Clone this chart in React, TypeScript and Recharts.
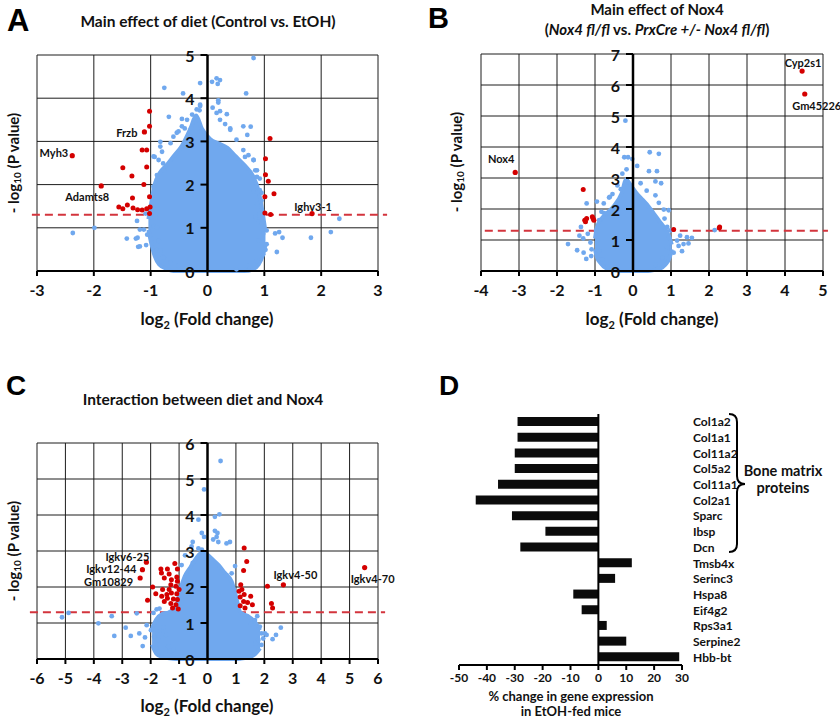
import React from "react";
import {
  Area,
  Bar,
  BarChart,
  CartesianGrid,
  ComposedChart,
  ReferenceLine,
  Scatter,
  XAxis,
  YAxis,
} from "recharts";

const FONT = "Lato, 'Open Sans', sans-serif";
const BLUE = "#70a8ee";
const RED = "#d40000";
const DASH_RED = "#d3343d";
const DOT_R = 2.4;

// ---------- Panel A: main effect of diet ----------
// dense core of the cloud: [log2FC, low, high]
const dietCore = [
  [-1.04, 0.95, 1.2], [-1.0, 0.7, 1.5], [-0.93, 0.35, 2.0], [-0.85, 0.15, 2.25],
  [-0.72, 0.05, 2.45], [-0.6, 0, 2.65], [-0.45, 0, 2.9], [-0.3, 0, 3.3],
  [-0.2, 0, 3.6], [-0.1, 0, 3.3], [0.05, 0, 3.05], [0.2, 0, 2.95],
  [0.35, 0, 2.85], [0.5, 0, 2.65], [0.65, 0, 2.45], [0.8, 0.04, 2.2],
  [0.9, 0.15, 1.85], [0.97, 0.35, 1.35], [1.02, 0.6, 0.9],
];
const dietBlue = [
  [0.81, 4.93], [-0.13, 4.35], [0.08, 4.38], [0.16, 4.46], [0.22, 4.42], [0.18, 4.33],
  [-0.76, 4.24], [-0.43, 4.11], [0.68, 4.11], [0.19, 3.95], [0.19, 3.9], [-0.13, 3.82],
  [-0.14, 3.72], [0.09, 3.78], [0.22, 3.7], [0.34, 3.63], [-0.68, 3.57], [-0.45, 3.52],
  [0.63, 3.35], [0.76, 3.34], [0.7, 3.15], [0.31, 3.4], [0.4, 3.3], [-0.4, 3.3],
  [-0.54, 3.2], [-0.83, 2.99], [-0.93, 2.64], [0.66, 2.64], [0.81, 2.57], [0.87, 2.33],
  [0.92, 2.14], [0.81, 1.83], [0.95, 1.81], [0.87, 1.56], [0.85, 1.25], [0.9, 1.14],
  [1.04, 0.94], [1.19, 0.87], [1.26, 0.9], [1.32, 0.77], [1.22, 0.44], [1.02, 0.49],
  [0.9, 0.71], [1.82, 0.77], [2.17, 0.9], [2.32, 1.21], [-2.37, 0.88], [-1.99, 1.0],
  [-1.42, 0.75], [-1.24, 1.16], [-1.26, 0.75], [-1.22, 0.56], [-1.08, 0.6], [-1.12, 0.96],
  [-0.95, 1.02], [-0.95, 0.75], [-0.78, 0.32], [-0.89, 0.48], [-1.09, 1.33], [-0.98, 1.25],
  [-0.89, 2.22], [-0.78, 2.49], [-0.8, 2.76], [-1.19, 0.96], [-1.23, 0.77], [-1.19, 0.57],
  [-1.06, 0.84], [-0.94, 1.04], [-0.95, 2.65], [-0.86, 2.57], [-0.77, 2.33], [-0.83, 2.88],
  [-0.65, 2.96], [-0.6, 3.11], [-0.51, 3.23], [-0.45, 3.35], [-0.36, 3.5], [-0.27, 3.62],
  [-0.19, 3.74], [-0.13, 3.85], [-0.95, 1.95], [-0.98, 1.71], [-0.96, 1.48], [-0.92, 1.25],
  [-0.89, 1.01], [-0.86, 0.7], [-0.83, 0.47], [-0.77, 0.31], [-0.65, 0.19], [-0.51, 0.12],
  [0.4, 3.27], [0.51, 3.04], [0.63, 2.8], [0.72, 2.68], [0.81, 2.57], [0.84, 2.33],
  [0.87, 2.18], [0.92, 1.87], [0.95, 1.63], [0.92, 1.32], [0.95, 1.09], [0.98, 0.86],
  [1.04, 0.62], [0.98, 0.39], [0.87, 0.23], [0.69, 0.12], [0.51, 0.04], [0.22, 3.5],
  [0.16, 3.66],
];
const dietRed = [
  [-1.49, 2.39], [-1.33, 2.2], [-1.12, 2.0], [-1.32, 1.69], [-1.02, 1.72], [-1.07, 2.41],
  [-1.15, 2.8], [-1.07, 2.8], [-1.02, 3.35], [-1.02, 3.7], [-1.56, 1.48], [-1.49, 1.44],
  [-1.41, 1.53], [-1.31, 1.46], [-1.23, 1.42], [-1.15, 1.41], [-1.07, 1.44], [-1.01, 1.48],
  [-1.02, 1.33], [1.1, 3.07], [1.02, 2.6], [1.02, 2.23], [1.07, 2.08], [1.17, 1.79],
  [1.01, 1.72], [1.01, 1.34], [1.11, 1.31],
];
const dietGenes: [string, number, number][] = [
  ["Myh3", -2.38, 2.67], ["Frzb", -1.11, 3.22], ["Adamts8", -1.87, 1.97], ["Ighv3-1", 1.84, 1.33],
];

// ---------- Panel B: main effect of Nox4 ----------
const noxCore = [
  [-1.0, 0.7, 1.05], [-0.95, 0.45, 1.4], [-0.85, 0.25, 1.65], [-0.7, 0.08, 1.85],
  [-0.5, 0.02, 2.1], [-0.3, 0, 2.5], [-0.18, 0, 2.95], [-0.05, 0, 2.75],
  [0.1, 0, 2.5], [0.25, 0, 2.3], [0.4, 0, 2.1], [0.55, 0.03, 1.85],
  [0.7, 0.07, 1.6], [0.85, 0.2, 1.35], [0.97, 0.45, 1.05], [1.02, 0.7, 0.85],
];
const noxBlue = [
  [-0.2, 4.85], [-1.71, 0.87], [-1.47, 0.67], [-1.3, 0.59], [-1.23, 0.39], [-1.1, 0.48],
  [-1.09, 0.7], [-1.12, 0.92], [-1.41, 1.14], [-1.37, 1.42], [-1.19, 1.2], [-1.31, 1.05],
  [-0.95, 2.24], [-0.77, 2.18], [-0.63, 2.37], [-0.54, 2.48], [-0.41, 2.76], [-0.32, 2.64],
  [-0.28, 3.14], [-0.17, 3.28], [-0.23, 3.67], [-0.13, 3.67], [-0.02, 3.61], [0.11, 3.39],
  [0.42, 3.22], [0.63, 3.22], [0.44, 3.83], [0.68, 3.78], [0.59, 2.89], [0.74, 2.83],
  [0.2, 2.83], [0.36, 2.59], [0.59, 2.44], [0.68, 2.2], [0.81, 1.98], [0.94, 1.96],
  [0.83, 1.69], [0.98, 1.31], [1.24, 1.14], [1.42, 1.09], [1.55, 1.07], [1.33, 0.87],
  [1.2, 0.81], [1.07, 0.59], [1.29, 0.64], [1.46, 0.89], [1.16, 0.98], [2.15, 1.32],
  [-0.61, 2.39], [-1.22, 2.18], [-0.83, 1.91], [-0.97, 1.31], [-0.93, 0.98], [-0.89, 0.64],
  [-0.8, 0.37], [-0.67, 0.14], [-0.89, 1.64], [-0.76, 1.87], [0.9, 1.42], [0.94, 1.09],
  [0.9, 0.76], [0.77, 0.43], [0.59, 0.2],
];
const noxRed = [
  [-1.31, 2.63], [-1.27, 1.64], [-1.25, 1.59], [-1.22, 1.69], [-1.05, 1.69], [-1.03, 1.64],
  [-1.07, 1.75], [1.07, 1.34], [2.27, 1.39], [2.28, 1.42],
];
const noxGenes: [string, number, number][] = [
  ["Cyp2s1", 4.45, 6.45], ["Gm45226", 4.52, 5.71], ["Nox4", -3.1, 3.18],
];

// ---------- Panel C: interaction ----------
const interCore = [
  [-1.95, 0.4, 0.85], [-1.8, 0.15, 1.1], [-1.6, 0.06, 1.25], [-1.35, 0.02, 1.3],
  [-1.1, 0, 1.45], [-0.95, 0, 1.95], [-0.8, 0, 2.3], [-0.6, 0, 2.55],
  [-0.4, 0, 2.8], [-0.2, 0, 2.95], [0.0, 0, 2.9], [0.2, 0, 2.75],
  [0.4, 0, 2.6], [0.6, 0, 2.4], [0.85, 0, 2.15], [1.0, 0, 1.75],
  [1.15, 0.01, 1.3], [1.4, 0.04, 1.2], [1.65, 0.12, 1.05], [1.85, 0.3, 0.8],
];
const interBlue = [
  [0.46, 5.5], [-0.12, 4.71], [0.42, 4.02], [0.26, 3.95], [-0.32, 3.87], [-0.2, 3.5],
  [-0.12, 3.39], [0.26, 3.56], [0.35, 3.5], [0.32, 3.39], [0.2, 3.32], [0.38, 3.25],
  [-0.52, 3.25], [-0.56, 3.13], [0.67, 3.21], [0.79, 3.25], [-0.32, 3.07], [-0.2, 3.04],
  [-0.79, 2.88], [-0.52, 2.67], [-0.91, 2.61], [0.97, 2.58], [0.85, 2.38], [0.67, 2.33],
  [-5.12, 1.16], [-4.89, 1.28], [-3.84, 0.99], [-3.37, 1.19], [-3.28, 0.64], [-2.88, 0.87],
  [-2.7, 0.64], [-2.49, 1.27], [-2.4, 0.71], [-2.28, 0.36], [-2.2, 0.6], [-2.14, 0.94],
  [-1.99, 0.8], [-1.88, 0.62], [-1.73, 0.53], [-1.81, 0.3], [-1.67, 0.79], [-1.55, 0.88],
  [-1.46, 0.67], [-1.38, 0.34], [-1.32, 0.2], [-1.2, 0.25], [-1.9, 1.28], [-1.79, 1.38],
  [-1.69, 1.4], [1.52, 0.97], [1.67, 1.08], [1.75, 1.19], [1.84, 0.9], [1.9, 0.71],
  [1.96, 0.57], [2.08, 0.67], [1.79, 0.53], [1.9, 0.39], [1.7, 0.43], [2.29, 0.55],
  [2.41, 0.67], [2.58, 0.87], [2.02, 0.71],
];
const interRed = [
  [-1.93, 2.0], [-1.82, 1.81], [-2.11, 1.63], [-1.64, 2.5], [-1.41, 2.5], [-1.15, 2.65],
  [-1.06, 2.5], [-1.62, 2.39], [-1.35, 2.36], [-1.52, 2.25], [-1.27, 2.2], [-1.08, 2.28],
  [-1.06, 2.16], [-1.29, 2.06], [-1.11, 2.02], [-1.35, 1.93], [-1.58, 1.93], [-1.27, 1.83],
  [-1.08, 1.81], [-1.61, 1.74], [-1.41, 1.69], [-1.2, 1.67], [-1.06, 1.65], [-1.52, 1.6],
  [-1.29, 1.54], [-1.11, 1.51], [-1.03, 1.39], [-1.23, 1.42], [-1.43, 1.79], [-1.0, 1.93],
  [1.29, 3.08], [1.38, 2.71], [1.27, 2.46], [1.17, 2.06], [1.21, 1.93], [1.11, 1.88],
  [1.29, 1.79], [1.52, 1.74], [1.15, 1.72], [1.27, 1.6], [1.41, 1.57], [1.58, 1.51],
  [1.15, 1.48], [1.32, 1.42], [2.11, 2.02], [2.25, 1.54], [2.29, 1.42],
];
const interGenes: [string, number, number][] = [
  ["Igkv6-25", -2.15, 2.69], ["Igkv12-44", -2.29, 2.48], ["Gm10829", -2.37, 2.25],
  ["Igkv4-50", 2.67, 2.06], ["Igkv4-70", 5.53, 2.54],
];

const SIG_LINE = 1.3; // -log10(0.05)

// ---------- Panel D ----------
const dGenes = [
  "Col1a2", "Col1a1", "Col11a2", "Col5a2", "Col11a1", "Col2a1", "Sparc", "Ibsp", "Dcn",
  "Tmsb4x", "Serinc3", "Hspa8", "Eif4g2", "Rps3a1", "Serpine2", "Hbb-bt",
];
const dChange = [-29, -29, -30, -30, -36, -44, -31, -19, -28, 12, 6, -9, -6, 3, 10, 29];
const dTicks = [-50, -40, -30, -20, -10, 0, 10, 20, 30];

// label placement next to the annotated dot: [dx, dy, anchor]
const LABEL_POS: Record<string, [number, number, string]> = {
  Myh3: [-4, -3, "end"],
  Frzb: [-7, 1, "end"],
  Adamts8: [-14, 11, "middle"],
  "Ighv3-1": [1, -7, "middle"],
  Cyp2s1: [1, -9, "middle"],
  Gm45226: [12, 12, "middle"],
  Nox4: [-14, -14, "middle"],
  "Igkv6-25": [-19, -6, "middle"],
  "Igkv12-44": [-6, -1, "end"],
  Gm10829: [-7, 3, "end"],
  "Igkv4-50": [12, -10, "middle"],
  "Igkv4-70": [8, 11, "middle"],
};

const toPts = (arr: number[][]) => arr.map(([x, y]) => ({ x, y }));

const blueDot = (p: any) => <circle cx={p.cx} cy={p.cy} r={DOT_R} fill={BLUE} />;
const redDot = (p: any) => <circle cx={p.cx} cy={p.cy} r={DOT_R + 0.1} fill={RED} />;
const geneDot = (p: any) => {
  const name = p.payload.name;
  const [dx, dy, anchor] = LABEL_POS[name] || [0, -8, "middle"];
  return (
    <g>
      <circle cx={p.cx} cy={p.cy} r={DOT_R + 0.2} fill={RED} />
      <text
        x={p.cx + dx}
        y={p.cy + dy}
        textAnchor={anchor as any}
        dominantBaseline="central"
        fontSize={11}
        fontWeight={700}
        fontFamily={FONT}
        fill="#111"
      >
        {name}
      </text>
    </g>
  );
};

interface VolcanoProps {
  left: number;
  top: number;
  width: number;
  height: number;
  margin: { top: number; right: number; bottom: number; left: number };
  xDomain: [number, number];
  xTicks: number[];
  yTicks: number[];
  dashRange: [number, number];
  core: number[][];
  blue: number[][];
  red: number[][];
  genes: [string, number, number][];
}

function Volcano(props: VolcanoProps) {
  const { left, top, width, height, margin, xDomain, xTicks, yTicks, dashRange } = props;
  // y axis takes 1px, so the plot starts at margin.left + 1
  const plotLeft = margin.left + 1;
  const plotW = width - plotLeft - margin.right;
  const zeroX = plotLeft + (plotW * (0 - xDomain[0])) / (xDomain[1] - xDomain[0]);
  const coreData = props.core.map(([x, lo, hi]) => ({ x, band: [lo, hi] }));
  const geneData = props.genes.map(([name, x, y]) => ({ name, x, y }));

  const yTick = (p: any) => (
    <g>
      <line x1={zeroX - 7} x2={zeroX} y1={p.y} y2={p.y} stroke="#000" strokeWidth={2} />
      <text
        x={zeroX - 13}
        y={p.y}
        textAnchor="end"
        dominantBaseline="central"
        fontSize={16}
        fontWeight={700}
        fontFamily={FONT}
        fill="#111"
      >
        {p.payload.value}
      </text>
    </g>
  );

  return (
    <div style={{ position: "absolute", left, top }}>
      <ComposedChart width={width} height={height} margin={margin} data={coreData}>
        <CartesianGrid stroke="#1c1c1c" strokeWidth={1} />
        <XAxis
          dataKey="x"
          type="number"
          domain={xDomain}
          ticks={xTicks}
          interval={0}
          height={30}
          axisLine={{ stroke: "#000", strokeWidth: 2 }}
          tickLine={{ stroke: "#000", strokeWidth: 2 }}
          tickSize={5}
          tickMargin={9}
          tick={{ fontSize: 16, fontWeight: 700, fill: "#111", fontFamily: FONT }}
        />
        <YAxis
          type="number"
          domain={[0, yTicks[yTicks.length - 1]]}
          ticks={yTicks}
          interval={0}
          width={1}
          axisLine={false}
          tickLine={false}
          tick={yTick}
          zIndex={900}
        />
        <ReferenceLine
          segment={[
            { x: dashRange[0], y: SIG_LINE },
            { x: dashRange[1], y: SIG_LINE },
          ]}
          stroke={DASH_RED}
          strokeWidth={2}
          strokeDasharray="8 5"
          ifOverflow="visible"
          zIndex={50}
        />
        <Area
          dataKey="band"
          type="monotone"
          stroke={BLUE}
          strokeWidth={4}
          fill={BLUE}
          fillOpacity={1}
          dot={false}
          activeDot={false}
          isAnimationActive={false}
        />
        <Scatter data={toPts(props.blue)} dataKey="y" shape={blueDot} isAnimationActive={false} />
        <Scatter data={toPts(props.red)} dataKey="y" shape={redDot} isAnimationActive={false} />
        <Scatter data={geneData} dataKey="y" shape={geneDot} isAnimationActive={false} />
        <ReferenceLine x={0} stroke="#000" strokeWidth={2.5} zIndex={800} />
      </ComposedChart>
    </div>
  );
}

const D_W = 420;
const D_MARGIN = { top: 74, right: 157, bottom: 25, left: 39 };

function GeneBars() {
  const data = dGenes.map((gene, i) => ({ gene, pct: dChange[i] }));
  const labelX = D_W - D_MARGIN.right - 1 + 11;
  const geneTick = (p: any) => (
    <text
      x={labelX}
      y={p.y}
      dominantBaseline="central"
      fontSize={12}
      fontWeight={700}
      fontFamily={FONT}
      fill="#111"
    >
      {p.payload.value}
    </text>
  );
  return (
    <div style={{ position: "absolute", left: 420, top: 340 }}>
      <BarChart layout="vertical" width={D_W} height={380} data={data} margin={D_MARGIN}>
        <XAxis
          type="number"
          domain={[-50, 30]}
          ticks={dTicks}
          interval={0}
          height={30}
          axisLine={{ stroke: "#000", strokeWidth: 2 }}
          tickLine={{ stroke: "#000", strokeWidth: 2 }}
          tickSize={5}
          tickMargin={3}
          tick={{ fontSize: 12, fontWeight: 700, fill: "#111", fontFamily: FONT }}
        />
        <YAxis
          type="category"
          dataKey="gene"
          orientation="right"
          width={1}
          interval={0}
          axisLine={false}
          tickLine={false}
          tick={geneTick}
        />
        <Bar dataKey="pct" fill="#0b0b0b" barSize={9} isAnimationActive={false} />
        <ReferenceLine x={0} stroke="#000" strokeWidth={2} />
      </BarChart>
    </div>
  );
}

const txt = { fontFamily: FONT, fontWeight: 700, fill: "#111" } as const;

function Annotations() {
  return (
    <svg
      width={840}
      height={720}
      style={{ position: "absolute", left: 0, top: 0, pointerEvents: "none" }}
    >
      <g fontFamily="'Liberation Sans', Arial, sans-serif" fontWeight={700} fill="#000">
        <text x={7} y={31} fontSize={31}>A</text>
        <text x={428} y={28} fontSize={29}>B</text>
        <text x={6} y={395} fontSize={28}>C</text>
        <text x={439} y={395} fontSize={28}>D</text>
      </g>

      <text {...txt} x={208} y={27} fontSize={15.5} textAnchor="middle">
        Main effect of diet (Control vs. EtOH)
      </text>
      <text {...txt} x={657} y={15} fontSize={15} textAnchor="middle">
        Main effect of Nox4
      </text>
      <text {...txt} x={657} y={35} fontSize={15} textAnchor="middle">
        (<tspan fontStyle="italic">Nox4 fl/fl</tspan> vs.{" "}
        <tspan fontStyle="italic">PrxCre +/- Nox4 fl/fl</tspan>)
      </text>
      <text {...txt} x={203} y={405} fontSize={15.5} textAnchor="middle">
        Interaction between diet and Nox4
      </text>

      {[
        [13, 163],
        [456, 162],
        [13, 551],
      ].map(([x, y]) => (
        <text
          key={`yl-${y}-${x}`}
          {...txt}
          x={x}
          y={y}
          fontSize={15}
          textAnchor="middle"
          dominantBaseline="central"
          transform={`rotate(-90 ${x} ${y})`}
        >
          - log
          <tspan fontSize={10} dy={4}>10</tspan>
          <tspan dy={-4}> (P value)</tspan>
        </text>
      ))}

      {[
        [207, 325],
        [652, 325],
        [207, 712],
      ].map(([x, y]) => (
        <text key={`xl-${x}-${y}`} {...txt} x={x} y={y} fontSize={17} textAnchor="middle">
          log
          <tspan fontSize={11} dy={4}>2</tspan>
          <tspan dy={-4}> (Fold change)</tspan>
        </text>
      ))}

      <text {...txt} x={571} y={701} fontSize={13} textAnchor="middle">
        % change in gene expression
      </text>
      <text {...txt} x={571} y={716} fontSize={13} textAnchor="middle">
        in EtOH-fed mice
      </text>

      <path
        d="M 729 414 Q 737 414 737 422 L 737 476 Q 737 484 745 484 Q 737 484 737 492 L 737 544 Q 737 552 729 552"
        stroke="#000"
        strokeWidth={2}
        fill="none"
      />
      <text {...txt} x={783} y={476} fontSize={14.5} textAnchor="middle">
        Bone matrix
      </text>
      <text {...txt} x={783} y={493} fontSize={14.5} textAnchor="middle">
        proteins
      </text>
    </svg>
  );
}

export default function App() {
  return (
    <div
      style={{
        position: "absolute",
        left: 0,
        top: 0,
        width: 840,
        height: 720,
        background: "#fff",
        overflow: "hidden",
      }}
    >
      <Volcano
        left={0}
        top={0}
        width={420}
        height={340}
        margin={{ top: 55, right: 42, bottom: 39, left: 36 }}
        xDomain={[-3, 3]}
        xTicks={[-3, -2, -1, 0, 1, 2, 3]}
        yTicks={[0, 1, 2, 3, 4, 5]}
        dashRange={[-3.09, 3.16]}
        core={dietCore}
        blue={dietBlue}
        red={dietRed}
        genes={dietGenes}
      />
      <Volcano
        left={420}
        top={0}
        width={420}
        height={340}
        margin={{ top: 54, right: 17, bottom: 39, left: 60 }}
        xDomain={[-4, 5]}
        xTicks={[-4, -3, -2, -1, 0, 1, 2, 3, 4, 5]}
        yTicks={[0, 1, 2, 3, 4, 5, 6, 7]}
        dashRange={[-3.9, 5.13]}
        core={noxCore}
        blue={noxBlue}
        red={noxRed}
        genes={noxGenes}
      />
      <Volcano
        left={0}
        top={340}
        width={420}
        height={380}
        margin={{ top: 103, right: 42, bottom: 31, left: 36 }}
        xDomain={[-6, 6]}
        xTicks={[-6, -5, -4, -3, -2, -1, 0, 1, 2, 3, 4, 5, 6]}
        yTicks={[0, 1, 2, 3, 4, 5, 6]}
        dashRange={[-6.25, 6.25]}
        core={interCore}
        blue={interBlue}
        red={interRed}
        genes={interGenes}
      />
      <GeneBars />
      <Annotations />
    </div>
  );
}
